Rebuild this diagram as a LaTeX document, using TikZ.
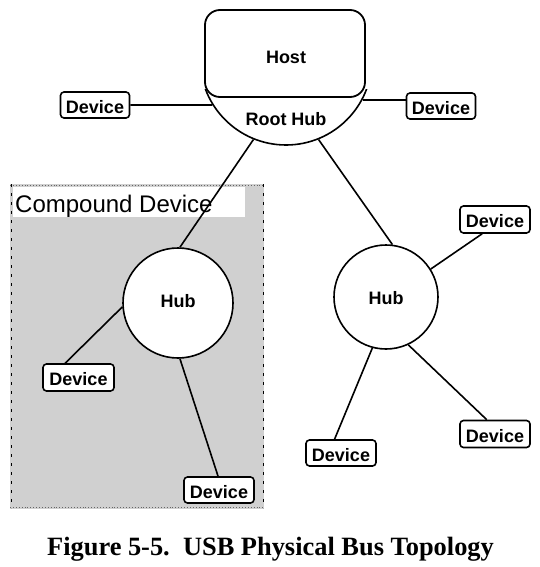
\documentclass[tikz,border=0pt]{standalone}
\usepackage{fontspec}
\setmainfont{Liberation Sans}
\newfontfamily\capfont{Liberation Serif}
\definecolor{cgray}{RGB}{208,208,208}
\tikzset{
  devbox/.style={draw, rounded corners=3.5pt, line width=1.6pt, fill=white,
    minimum width=69pt, minimum height=26pt, inner sep=0pt,
    text height=16.5pt, text depth=0pt,
    font=\fontsize{18}{20}\selectfont\bfseries},
  hubnode/.style={draw, circle, line width=1.6pt, fill=white, inner sep=0pt,
    font=\fontsize{18}{20}\selectfont\bfseries},
  wire/.style={line width=1.6pt},
  boldlabel/.style={inner sep=0pt, font=\fontsize{18}{20}\selectfont\bfseries},
}
\begin{document}
\begin{tikzpicture}[x=1pt,y=-1pt]
\useasboundingbox (0,0) rectangle (540,567);
% compound device region
\fill[cgray] (10,184) rectangle (264,509);
\draw[line width=0.9pt, dash pattern=on 3pt off 6pt] (11,184) -- (11,508);
\draw[line width=0.9pt, dash pattern=on 3pt off 6pt] (263,184) -- (263,508);
\draw[line width=0.9pt, dotted, black!60] (10,185) -- (264,185);
\draw[line width=0.9pt, dotted, black!60] (10,507) -- (264,507);
\fill[white] (13,187) rectangle (245,217);
\node[anchor=base west, inner sep=0pt, font=\fontsize{24}{26}\selectfont] (cdlabel) at (15,212) {Compound Device};
% root hub (lower part of circle)
\begin{scope}
\clip (0,90) rectangle (540,200);
\node[draw, circle, line width=1.6pt, fill=white, minimum size=172pt, inner sep=0pt] (rh) at (286,59) {};
\end{scope}
% host box
\node[draw, rounded corners=15pt, line width=1.8pt, fill=white, minimum width=160pt, minimum height=87pt, inner sep=0pt] (host) at (285,53.5) {};
\node[boldlabel] (hostlabel) at (286,57) {Host};
\node[boldlabel] (rhlabel) at (286,119) {Root Hub};
% hubs
\node[hubnode, minimum size=110pt] (hubL) at (178,303) {};
\node[boldlabel] (hubLlabel) at (178,301) {Hub};
\node[hubnode, minimum size=104pt] (hubR) at (386,297) {};
\node[boldlabel] (hubRlabel) at (386,298) {Hub};
% devices
\node[devbox] (devL) at (95,105) {Device};
\node[devbox] (devR) at (441,106) {Device};
\node[devbox, minimum width=70pt, minimum height=27pt] (devTR) at (495,219.5) {Device};
\node[devbox, minimum width=70pt, minimum height=27pt] (devBR) at (495,434) {Device};
\node[devbox, minimum width=70pt] (devB) at (341,453) {Device};
\node[devbox, minimum width=71pt, minimum height=27pt] (devCL) at (78.5,377.5) {Device};
\node[devbox, minimum width=70pt] (devCB) at (219,490) {Device};
% connectors
\draw[wire] (devL.east) -- (rh.212);
\draw[wire] (rh.-28.5) -- (rh.-28.5 -| devR.west);
\draw[wire] (rh.248) -- (hubL.88);
\draw[wire] (rh.292) -- (hubR.83);
\draw[wire] (hubL.184) -- (devCL.133);
\draw[wire] (hubL.272) -- (devCB.94);
\draw[wire] (hubR.32) -- (devTR.228);
\draw[wire] (hubR.295) -- (devBR.120);
\draw[wire] (hubR.255) -- (devB.115);
% caption
\node[anchor=base, inner sep=0pt, font=\capfont\fontsize{26.4}{28}\selectfont\bfseries] (cap) at (270.5,555) {Figure 5-5.\ \ USB Physical Bus Topology};
\end{tikzpicture}
\end{document}
